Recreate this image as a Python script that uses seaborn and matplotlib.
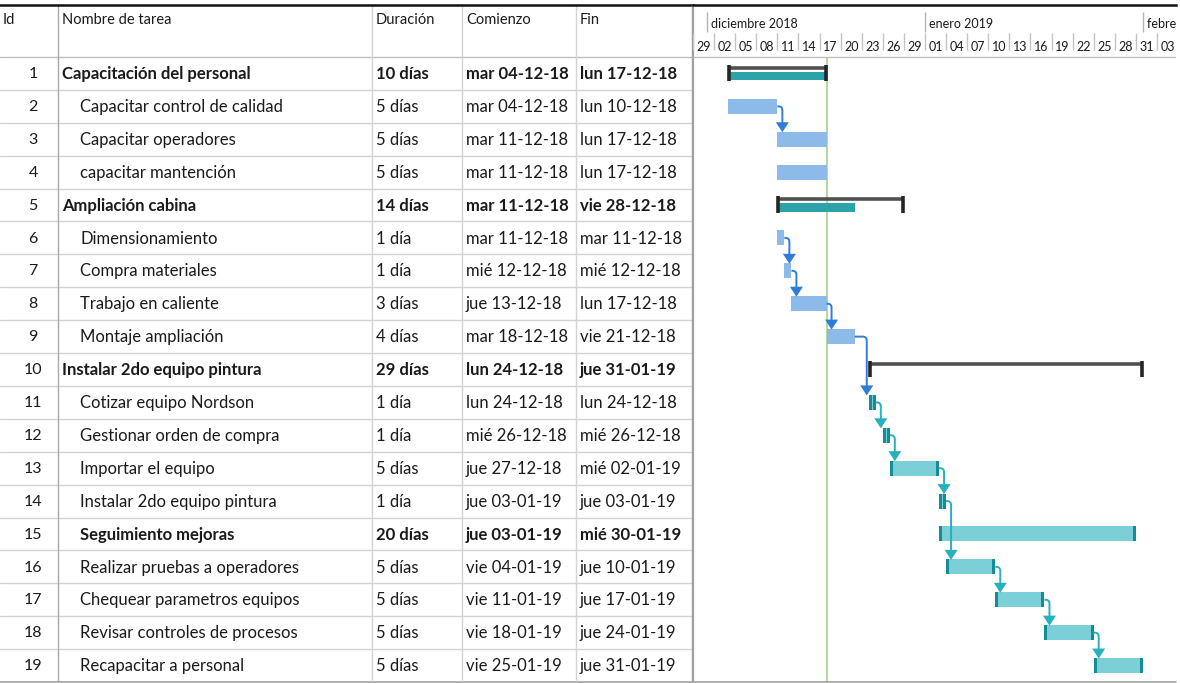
import numpy as np
import pandas as pd
import matplotlib
matplotlib.use("Agg")
import matplotlib.pyplot as plt
import matplotlib.dates as mdates
from matplotlib.path import Path
from matplotlib.patches import PathPatch, Polygon
import seaborn as sns

# ---------------------------------------------------------------- data
task_ids = list(range(1, 20))
task_names = [
    "Capacitación del personal",
    "Capacitar control de calidad",
    "Capacitar operadores",
    "capacitar mantención",
    "Ampliación cabina",
    "Dimensionamiento",
    "Compra materiales",
    "Trabajo en caliente",
    "Montaje ampliación",
    "Instalar 2do equipo pintura",
    "Cotizar equipo Nordson",
    "Gestionar orden de compra",
    "Importar el equipo",
    "Instalar 2do equipo pintura",
    "Seguimiento mejoras",
    "Realizar pruebas a operadores",
    "Chequear parametros equipos",
    "Revisar controles de procesos",
    "Recapacitar a personal",
]
durations = [
    "10 días", "5 días", "5 días", "5 días", "14 días", "1 día", "1 día",
    "3 días", "4 días", "29 días", "1 día", "1 día", "5 días", "1 día",
    "20 días", "5 días", "5 días", "5 días", "5 días",
]
start_labels = [
    "mar 04-12-18", "mar 04-12-18", "mar 11-12-18", "mar 11-12-18",
    "mar 11-12-18", "mar 11-12-18", "mié 12-12-18", "jue 13-12-18",
    "mar 18-12-18", "lun 24-12-18", "lun 24-12-18", "mié 26-12-18",
    "jue 27-12-18", "jue 03-01-19", "jue 03-01-19", "vie 04-01-19",
    "vie 11-01-19", "vie 18-01-19", "vie 25-01-19",
]
end_labels = [
    "lun 17-12-18", "lun 10-12-18", "lun 17-12-18", "lun 17-12-18",
    "vie 28-12-18", "mar 11-12-18", "mié 12-12-18", "lun 17-12-18",
    "vie 21-12-18", "jue 31-01-19", "lun 24-12-18", "mié 26-12-18",
    "mié 02-01-19", "jue 03-01-19", "mié 30-01-19", "jue 10-01-19",
    "jue 17-01-19", "jue 24-01-19", "jue 31-01-19",
]
bold_ids = [1, 5, 10, 15]
outline_level = [1, 2, 2, 2, 1, 2, 2, 2, 2, 1, 2, 2, 2, 2, 2, 2, 2, 2, 2]
bar_kind = ["summary", "task", "task", "task", "summary", "task", "task",
            "task", "task", "summary", "phase", "phase", "phase", "phase",
            "phase", "phase", "phase", "phase", "phase"]
summary_complete = {1: 100, 5: 64, 10: 0}
links = [(2, 3), (6, 7), (7, 8), (8, 9), (9, 11), (11, 12), (12, 13),
         (13, 14), (14, 16), (16, 17), (17, 18), (18, 19)]
headers = ["Id", "Nombre de tarea", "Duración", "Comienzo", "Fin"]
month_labels = ["diciembre 2018", "enero 2019", "febrero 2019"]
month_starts = ["2018-12-01", "2019-01-01", "2019-02-01"]
status_day = "2018-12-17"
timeline_start = "2018-11-29"
timeline_end = "2019-02-05 17:00"

# ---------------------------------------------------------------- style
sns.set_theme(style="white")
plt.rcParams["font.family"] = ["Lato", "DejaVu Sans"]

C_TASK = "#8cbbea"
C_PHASE = "#7bcfd7"
C_PHASE_CAP = "#168c97"
C_SUM_LINE = "#505050"
C_SUM_CAP = "#262626"
C_SUM_DONE = "#2ba3a9"
C_LINK_TASK = "#2e7dd6"
C_LINK_PHASE = "#27b1bf"
C_GRID = "#d3d3d3"
C_BORDER = "#a0a0a0"
C_TODAY = "#b3dba0"
C_TEXT = "#1a1a1a"

W, H = 1180, 683
TOP, HEAD_BOTTOM, BOTTOM = 5, 57, 682
ROW_PX = (BOTTOM - HEAD_BOTTOM) / len(task_ids)
HEAD_ROWS = (HEAD_BOTTOM - TOP) / ROW_PX
SPLIT_X, RIGHT_X = 693, 1176


def box(x0, y0, x1, y1):
    return [x0 / W, 1 - y1 / H, (x1 - x0) / W, (y1 - y0) / H]


def parse_day(label):
    return pd.to_datetime(label.split()[1], format="%d-%m-%y")


starts = np.array([mdates.date2num(parse_day(s)) for s in start_labels])
ends = np.array([mdates.date2num(parse_day(s) + pd.Timedelta(days=1))
                 for s in end_labels])
work_days = [int(d.split()[0]) for d in durations]

fig = plt.figure(figsize=(W / 100, H / 100), dpi=100)
ax_t = fig.add_axes(box(0, TOP, SPLIT_X, BOTTOM))
ax_g = fig.add_axes(box(SPLIT_X, TOP, RIGHT_X, BOTTOM))

for ax in (ax_t, ax_g):
    ax.set_ylim(len(task_ids), -HEAD_ROWS)
    ax.set_xticks([])
    ax.set_yticks([])
    ax.set_facecolor("white")
    for side in ("left", "right", "bottom"):
        ax.spines[side].set_visible(False)
    ax.spines["top"].set_color("#111111")
    ax.spines["top"].set_linewidth(1.8)
    ax.axhline(len(task_ids), color=C_BORDER, lw=1.2, clip_on=False)

# ---------------------------------------------------------------- table
ax_t.set_xlim(0, SPLIT_X)
col_lines = [58, 372, 462, 576]
col_text_x = [33, 62, 376, 466, 580]

for k in range(0, len(task_ids)):
    ax_t.axhline(k, color=C_GRID if k else "#bdbdbd", lw=1.0)
for i, xc in enumerate(col_lines):
    ax_t.vlines(xc, -HEAD_ROWS, len(task_ids),
                color="#a9a9a9" if i == 0 else C_GRID, lw=1.0)
ax_t.vlines(SPLIT_X - 0.5, -HEAD_ROWS, len(task_ids), color=C_BORDER, lw=1.6)

head_y = (20 - HEAD_BOTTOM) / ROW_PX
for j, text in enumerate(headers):
    ax_t.text(col_text_x[j] if j else 3, head_y, text, ha="left", va="center",
              fontsize=10.5, color=C_TEXT)

for r, tid in enumerate(task_ids):
    yc = r + 0.52
    weight = "bold" if tid in bold_ids else "normal"
    ax_t.text(col_text_x[0], yc, str(tid), ha="center", va="center",
              fontsize=11.5, color=C_TEXT)
    name_x = col_text_x[1] + (18 if outline_level[r] > 1 else 0)
    ax_t.text(name_x, yc, task_names[r], ha="left", va="center",
              fontsize=12, fontweight=weight, color=C_TEXT)
    ax_t.text(col_text_x[2], yc, durations[r], ha="left", va="center",
              fontsize=12, fontweight=weight, color=C_TEXT)
    ax_t.text(col_text_x[3], yc, start_labels[r], ha="left", va="center",
              fontsize=12, fontweight=weight, color=C_TEXT)
    ax_t.text(col_text_x[4], yc, end_labels[r], ha="left", va="center",
              fontsize=12, fontweight=weight, color=C_TEXT)

# ---------------------------------------------------------------- gantt
x_lo = mdates.date2num(pd.Timestamp(timeline_start))
x_hi = mdates.date2num(pd.Timestamp(timeline_end))
ax_g.set_xlim(x_lo, x_hi)
day_px = (RIGHT_X - SPLIT_X) / (x_hi - x_lo)
px_day = 1.0 / day_px           # days per pixel
px_row = 1.0 / ROW_PX           # rows per pixel

ax_g.vlines(x_lo, -HEAD_ROWS, len(task_ids), color=C_BORDER, lw=1.6,
            clip_on=False)
ax_g.axhline(0, color="#bdbdbd", lw=1.0)

# timescale: months on top, every third day below
m_y0, m_y1 = (12 - HEAD_BOTTOM) / ROW_PX, (32 - HEAD_BOTTOM) / ROW_PX
d_y0, d_y1 = (33 - HEAD_BOTTOM) / ROW_PX, (50 - HEAD_BOTTOM) / ROW_PX
for label, ms in zip(month_labels, month_starts):
    xm = mdates.date2num(pd.Timestamp(ms))
    ax_g.vlines(xm, m_y0, m_y1, color="#b5b5b5", lw=1.0)
    ax_g.text(xm + 4 * px_day, (24 - HEAD_BOTTOM) / ROW_PX, label,
              ha="left", va="center", fontsize=9, color=C_TEXT, clip_on=True)
for d in pd.date_range(timeline_start, timeline_end, freq="3D"):
    xd = mdates.date2num(d)
    ax_g.vlines(xd, d_y0, d_y1, color="#c4c4c4", lw=1.0)
    ax_g.text(xd + 3.5 * px_day, (47 - HEAD_BOTTOM) / ROW_PX, f"{d.day:02d}",
              ha="left", va="center", fontsize=9, color=C_TEXT, clip_on=True)

# status line
status_x = mdates.date2num(pd.Timestamp(status_day) + pd.Timedelta(days=1))
ax_g.vlines(status_x, 0, len(task_ids), color=C_TODAY, lw=1.5, zorder=1)

bar_h = 15 * px_row
cap_w = 3 * px_day
for r, tid in enumerate(task_ids):
    yc = r + 0.5
    x0, x1 = starts[r], ends[r]
    kind = bar_kind[r]
    if kind == "task":
        ax_g.barh(yc, x1 - x0, left=x0, height=bar_h, color=C_TASK,
                  edgecolor="none", zorder=2)
    elif kind == "phase":
        ax_g.barh(yc, x1 - x0, left=x0, height=bar_h, color=C_PHASE,
                  edgecolor="none", zorder=2)
        ax_g.barh([yc, yc], [cap_w, cap_w], left=[x0, x1 - cap_w],
                  height=bar_h, color=C_PHASE_CAP, edgecolor="none", zorder=3)
    else:
        pct = summary_complete[tid]
        done_days = int(round(work_days[r] * pct / 100))
        if done_days > 0:
            last = np.busday_offset(
                np.datetime64(mdates.num2date(x0).date()), done_days - 1,
                roll="forward")
            done_end = mdates.date2num(pd.Timestamp(last) + pd.Timedelta(days=1))
            top, bot = yc - 1.7 * px_row, yc + 6.6 * px_row
            ax_g.barh((top + bot) / 2, done_end - x0, left=x0,
                      height=bot - top, color=C_SUM_DONE, edgecolor="none",
                      zorder=2)
        ax_g.hlines(yc - 5.7 * px_row, x0, x1, color=C_SUM_LINE, lw=2.6,
                    zorder=3)
        ax_g.vlines([x0 + 1 * px_day, x1 - 1 * px_day], yc - 8.6 * px_row,
                    yc + 7.5 * px_row, color=C_SUM_CAP, lw=2.6, zorder=4)

# finish-to-start links
head_w = 6.5 * px_day
head_h = 9.5 * px_row
rad_x = 4 * px_day
rad_y = 4 * px_row
for a, b in links:
    ia, ib = task_ids.index(a), task_ids.index(b)
    color = C_LINK_TASK if bar_kind[ia] == "task" else C_LINK_PHASE
    y_from = ia + 0.5
    x_from = ends[ia]
    x_arrow = max(ends[ia] + 5 * px_day, starts[ib] - 2 * px_day)
    y_tip = ib + 0.5 - bar_h / 2
    verts = [(x_from, y_from), (x_arrow - rad_x, y_from), (x_arrow, y_from),
             (x_arrow, y_from + rad_y), (x_arrow, y_tip - head_h + 0.02)]
    codes = [Path.MOVETO, Path.LINETO, Path.CURVE3, Path.CURVE3, Path.LINETO]
    ax_g.add_patch(PathPatch(Path(verts, codes), fill=False, edgecolor=color,
                             lw=1.4, zorder=5))
    ax_g.add_patch(Polygon([(x_arrow - head_w, y_tip - head_h),
                            (x_arrow + head_w, y_tip - head_h),
                            (x_arrow, y_tip + 0.5 * px_row)], closed=True,
                           facecolor=color, edgecolor="none", zorder=6))

fig.savefig("out.png", dpi=100, facecolor="white")
